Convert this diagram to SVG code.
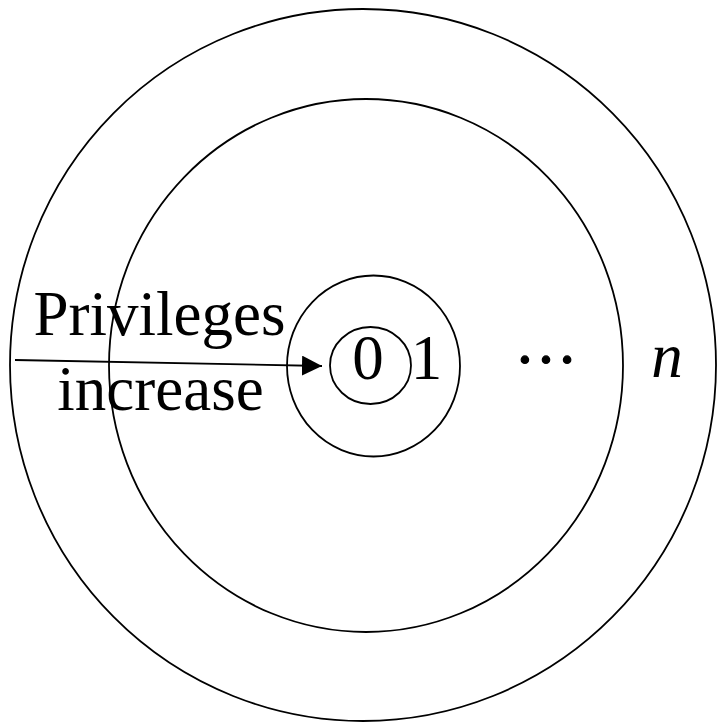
<svg xmlns="http://www.w3.org/2000/svg" width="717" height="724" viewBox="0 0 717 724">
<style>
.ring{fill:none;stroke:#000;stroke-width:1.8}
.lbl{font-family:"Liberation Serif","Times New Roman",serif;font-size:63px;fill:#000}
.conn{stroke:#000;stroke-width:1.8;fill:none}
</style>
<defs>
<marker id="ah" viewBox="0 0 20 20" refX="20" refY="10" markerWidth="20" markerHeight="20" markerUnits="userSpaceOnUse" orient="auto">
<path d="M0,0 L20,10 L0,20 Z" fill="#000"/>
</marker>
</defs>
<rect width="717" height="724" fill="#fff"/>
<g id="ring-n"><ellipse class="ring" cx="363" cy="365" rx="353" ry="356"/><text class="lbl" x="667" y="377" text-anchor="middle" font-style="italic">n</text></g>
<g id="ring-dots"><ellipse class="ring" cx="366" cy="365.5" rx="257" ry="266.5"/><text class="lbl" x="546" y="363" text-anchor="middle" stroke="#000" stroke-width="1.2">…</text></g>
<g id="ring-1"><ellipse class="ring" cx="373.5" cy="366" rx="86.5" ry="90.5"/><text class="lbl" x="426.5" y="379" text-anchor="middle">1</text></g>
<g id="ring-0"><ellipse class="ring" cx="370.5" cy="365.5" rx="40.5" ry="38.5"/><text class="lbl" x="368" y="379" text-anchor="middle">0</text></g>
<g id="label"><text class="lbl" x="159.5" y="335" text-anchor="middle">Privileges</text><text class="lbl" x="160.5" y="410" text-anchor="middle">increase</text></g>
<g id="connectors"><line class="conn" x1="15" y1="360" x2="322" y2="366" marker-end="url(#ah)"/></g>
</svg>
